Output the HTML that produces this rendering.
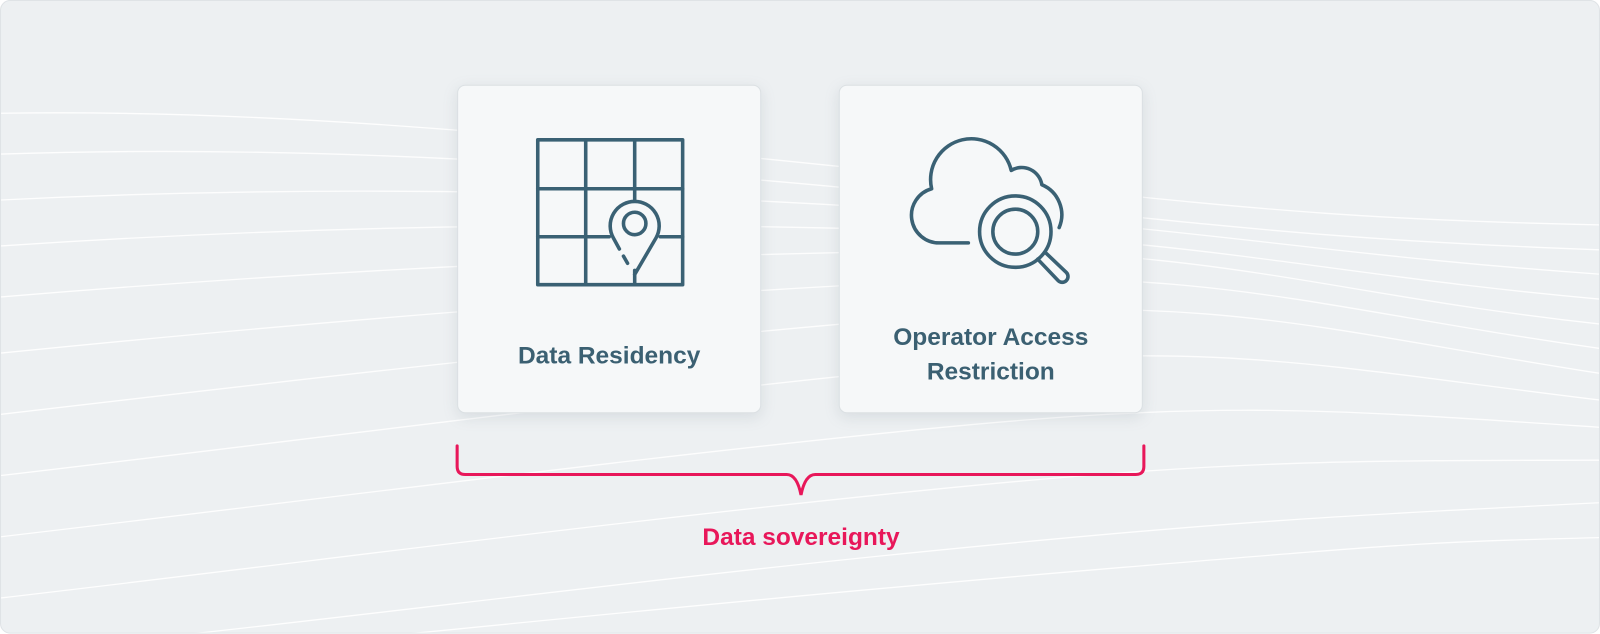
<!DOCTYPE html>
<html><head><style>
html,body{margin:0;padding:0;width:1600px;height:634px;overflow:hidden;background:#fff}
.scale{position:absolute;left:0;top:0;width:1568px;height:621px;transform:scale(1.0204);transform-origin:0 0}
.wrap{position:absolute;left:0;top:0;width:1566px;height:619px;border:1px solid #dfe3e6;border-radius:10px;background:#edf0f2;overflow:hidden}
.card{position:absolute;top:82px;width:296px;height:320px;background:#f6f8f9;border:1px solid #dbe0e3;border-radius:8px;box-shadow:0 4px 14px rgba(120,140,150,0.18)}
.t{position:absolute;left:0;width:100%;text-align:center;font-family:"Liberation Sans",sans-serif;font-size:24px;font-weight:bold;color:#3b6072;line-height:34px}
</style></head><body>
<div class="scale">
<div class="wrap">
<svg width="1568" height="621" style="position:absolute;left:0;top:0">
<g fill="none" stroke="#ffffff" stroke-width="1.3" opacity="0.9">
<path d="M0 110 C300 105 600 140 900 170 S1300 215 1600 220"/>
<path d="M0 150 C300 140 600 160 900 190 S1300 235 1600 245"/>
<path d="M0 195 C300 180 600 185 900 205 S1300 250 1600 270"/>
<path d="M0 240 C300 220 600 215 900 225 S1300 270 1600 295"/>
<path d="M0 290 C300 265 600 250 900 245 S1300 290 1600 320"/>
<path d="M0 345 C300 315 600 290 900 275 S1300 305 1600 345"/>
<path d="M0 405 C300 370 600 335 900 310 S1300 325 1600 370"/>
<path d="M0 465 C300 430 600 390 900 360 S1300 360 1600 395"/>
<path d="M0 525 C300 490 600 450 900 420 S1300 400 1600 420"/>
<path d="M0 585 C300 550 600 510 900 480 S1300 450 1600 450"/>
<path d="M0 640 C300 610 600 570 900 540 S1300 505 1600 490"/>
<path d="M200 640 C500 610 800 580 1100 555 S1400 530 1600 525"/>
</g>
</svg>
<div class="card" style="left:447px"><div class="t" style="top:248px">Data Residency</div></div>
<div class="card" style="left:821px"><div class="t" style="top:230px">Operator Access<br>Restriction</div></div>
<svg width="1568" height="621" style="position:absolute;left:0;top:0">
<g fill="none" stroke="#3a6174" stroke-width="3.5" stroke-linejoin="round" stroke-linecap="round">
<rect x="526" y="136" width="142" height="142"/>
<line x1="573" y1="136" x2="573" y2="278"/>
<line x1="621" y1="136" x2="621" y2="196"/>
<line x1="621" y1="264" x2="621" y2="278"/>
<line x1="526" y1="184" x2="668" y2="184"/>
<line x1="526" y1="231" x2="596" y2="231"/>
<line x1="646" y1="231" x2="668" y2="231"/>
<path d="M621 268 L642 232 A24 24 0 1 0 600 232 L606 243" />
<line x1="610" y1="250" x2="614" y2="257"/>
<circle cx="621" cy="218" r="11"/>
<path d="M948 237 L920 237 A27 27 0 0 1 912 184 A40 40 0 0 1 990 166 A20 20 0 0 1 1020 180 A32 32 0 0 1 1037 222"/>
<circle cx="994" cy="226" r="35"/>
<circle cx="994" cy="226" r="22"/>
<path d="M1016 253 L1036 274 A5 5 0 0 0 1044 266 L1023 246"/>
</g>
<path d="M447 436 L447 456 Q447 464 455 464 L770 464 Q780 464 784 484 Q788 464 798 464 L1112 464 Q1120 464 1120 456 L1120 436" fill="none" stroke="#e8175a" stroke-width="3" stroke-linecap="round"/>
<text x="784" y="533" text-anchor="middle" font-family="Liberation Sans,sans-serif" font-size="24" font-weight="bold" fill="#e8175a">Data sovereignty</text>
</svg>
</div>
</div>
</body></html>
